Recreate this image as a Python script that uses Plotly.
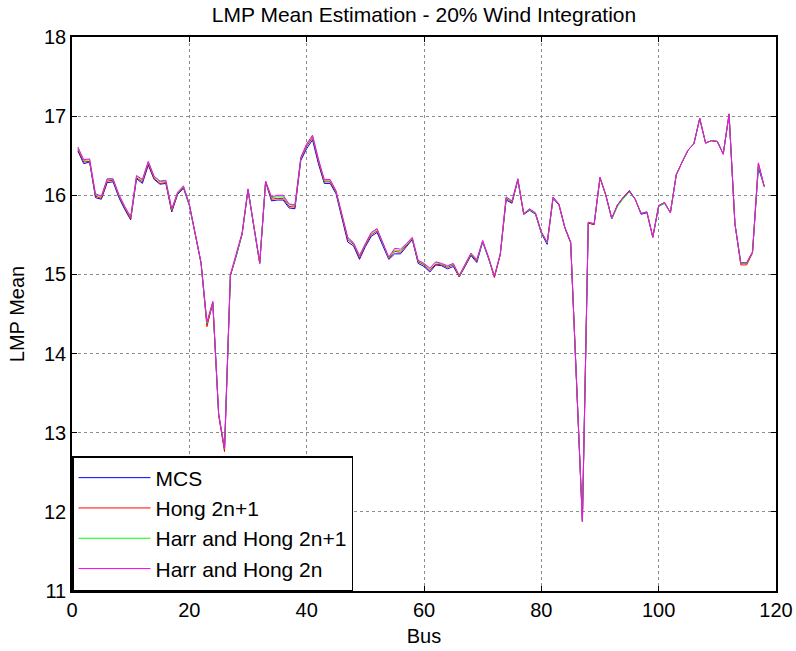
import plotly.graph_objects as go

bus = list(range(1, 119))

mcs = [16.56,16.40,16.42,15.97,15.95,16.16,16.17,15.97,15.82,15.69,
       16.21,16.15,16.38,16.20,16.14,16.15,15.79,16.01,16.09,15.87,
       15.51,15.14,14.37,14.64,13.23,12.79,14.99,15.23,15.51,16.07,
       15.60,15.14,16.17,15.93,15.94,15.94,15.84,15.83,16.44,16.59,
       16.70,16.40,16.15,16.15,16.02,15.73,15.41,15.36,15.19,15.35,
       15.48,15.53,15.37,15.19,15.26,15.26,15.35,15.44,15.14,15.10,
       15.03,15.12,15.11,15.07,15.10,14.97,15.10,15.24,15.15,15.41,
       15.20,14.97,15.25,15.94,15.90,16.19,15.76,15.81,15.76,15.52,
       15.38,15.96,15.88,15.59,15.40,13.65,11.88,15.65,15.63,16.22,
       16.00,15.70,15.88,15.97,16.06,15.95,15.76,15.78,15.47,15.86,
       15.90,15.78,16.26,16.42,16.57,16.65,16.97,16.66,16.69,16.68,
       16.52,17.02,15.64,15.14,15.14,15.28,16.35,16.11]

hong_2n1 = [16.58,16.42,16.43,15.99,15.96,16.18,16.19,15.99,15.84,15.70,
            16.22,16.17,16.40,16.21,16.15,16.16,15.80,16.02,16.10,15.88,
            15.51,15.14,14.34,14.64,13.22,12.76,14.98,15.23,15.51,16.07,
            15.61,15.14,16.17,15.95,15.96,15.96,15.86,15.85,16.46,16.62,
            16.73,16.43,16.17,16.17,16.04,15.75,15.44,15.38,15.21,15.37,
            15.50,15.55,15.39,15.20,15.29,15.28,15.37,15.45,15.16,15.12,
            15.05,15.13,15.12,15.09,15.12,14.97,15.11,15.25,15.17,15.42,
            15.21,14.96,15.25,15.96,15.91,16.20,15.76,15.82,15.77,15.53,
            15.40,15.97,15.88,15.59,15.40,13.65,11.88,15.65,15.63,16.22,
            16.00,15.71,15.88,15.98,16.05,15.95,15.77,15.79,15.47,15.87,
            15.91,15.78,16.26,16.42,16.57,16.65,16.97,16.66,16.69,16.68,
            16.52,17.03,15.64,15.12,15.12,15.27,16.40,16.11]

harr_2n1 = [16.60,16.44,16.45,16.01,15.98,16.20,16.20,16.00,15.85,15.72,
            16.24,16.19,16.42,16.23,16.17,16.18,15.82,16.03,16.11,15.88,
            15.52,15.15,14.38,14.65,13.24,12.80,15.00,15.24,15.52,16.08,
            15.61,15.15,16.18,15.97,15.98,15.98,15.88,15.87,16.47,16.64,
            16.75,16.45,16.19,16.19,16.05,15.76,15.46,15.39,15.23,15.38,
            15.52,15.57,15.40,15.21,15.31,15.30,15.38,15.46,15.17,15.13,
            15.07,15.15,15.13,15.10,15.13,14.98,15.12,15.26,15.18,15.42,
            15.21,14.98,15.26,15.97,15.92,16.20,15.77,15.82,15.77,15.53,
            15.40,15.97,15.89,15.60,15.41,13.66,11.89,15.66,15.64,16.23,
            16.00,15.70,15.86,15.96,16.04,15.95,15.77,15.79,15.47,15.86,
            15.90,15.78,16.26,16.42,16.57,16.65,16.97,16.66,16.69,16.68,
            16.52,17.02,15.64,15.14,15.14,15.28,16.39,16.11]

harr_2n = [16.61,16.45,16.46,16.02,15.99,16.21,16.21,16.01,15.86,15.73,
           16.25,16.20,16.43,16.24,16.18,16.19,15.83,16.04,16.12,15.89,
           15.52,15.15,14.40,14.66,13.24,12.81,15.00,15.25,15.53,16.08,
           15.62,15.15,16.18,15.98,16.00,16.00,15.89,15.88,16.48,16.65,
           16.76,16.46,16.20,16.20,16.06,15.77,15.47,15.40,15.24,15.39,
           15.53,15.58,15.41,15.22,15.33,15.32,15.39,15.47,15.18,15.14,
           15.08,15.16,15.14,15.11,15.14,14.99,15.13,15.27,15.19,15.43,
           15.22,14.98,15.26,15.98,15.93,16.21,15.77,15.83,15.78,15.54,
           15.41,15.98,15.89,15.60,15.41,13.66,11.89,15.66,15.64,16.23,
           16.00,15.71,15.88,15.98,16.05,15.95,15.77,15.79,15.47,15.87,
           15.91,15.78,16.26,16.42,16.57,16.65,16.97,16.66,16.69,16.68,
           16.52,17.02,15.64,15.15,15.15,15.29,16.41,16.11]

series_names = ["MCS", "Hong 2n+1", "Harr and Hong 2n+1", "Harr and Hong 2n"]
series_values = [mcs, hong_2n1, harr_2n1, harr_2n]
series_colors = ["#0000ff", "#ff0000", "#00ff00", "#ff00ff"]

x_ticks = [0, 20, 40, 60, 80, 100, 120]
y_ticks = [11, 12, 13, 14, 15, 16, 17, 18]

FONT = "Liberation Sans, Arial, sans-serif"

fig = go.Figure()
for name, vals, col in zip(series_names, series_values, series_colors):
    fig.add_trace(go.Scatter(x=bus, y=vals, mode="lines", name=name,
                             legendgroup=name,
                             line=dict(color=col, width=1)))

axis_common = dict(showline=True, linecolor="black", linewidth=1.5, mirror="ticks",
                   ticks="inside", ticklen=5, tickcolor="black", tickwidth=1,
                   showgrid=True, gridcolor="#8c8c8c", griddash="dot", gridwidth=1,
                   zeroline=False, automargin=False,
                   tickfont=dict(size=20, color="black", family=FONT))

fig.update_xaxes(range=[0, 120], tickvals=x_ticks,
                 title=dict(text="Bus", font=dict(size=20, color="black", family=FONT), standoff=9),
                 **axis_common)
fig.update_yaxes(range=[11, 18], tickvals=y_ticks,
                 title=dict(text="LMP Mean", font=dict(size=20, color="black", family=FONT), standoff=14),
                 **axis_common)

fig.update_layout(
    width=796, height=651,
    margin=dict(l=72, r=20, t=37, b=60),
    paper_bgcolor="white", plot_bgcolor="white",
    title=dict(text="LMP Mean Estimation - 20% Wind Integration",
               font=dict(size=21, color="black", family=FONT),
               x=0.5, xref="paper", xanchor="center", y=1, yref="paper",
               yanchor="bottom", pad=dict(b=15)),
    legend=dict(x=0, y=0, xanchor="left", yanchor="bottom",
                bgcolor="white", bordercolor="black", borderwidth=1.5,
                font=dict(size=21, color="black", family=FONT),
                itemwidth=72, tracegroupgap=0, traceorder="normal"),
    showlegend=True,
)

fig.write_html("out.html")
